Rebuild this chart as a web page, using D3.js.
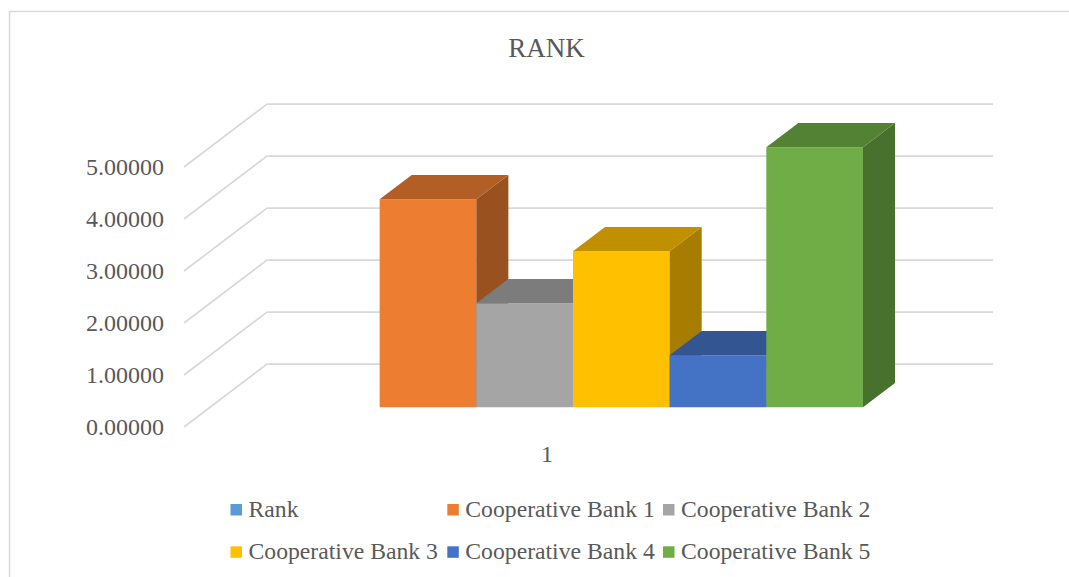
<!DOCTYPE html>
<html>
<head>
<meta charset="utf-8">
<script src="https://cdn.jsdelivr.net/npm/d3@7"></script>
<style>
  html, body { margin: 0; padding: 0; background: #ffffff; }
  svg { display: block; }
  text { font-family: "Liberation Serif", "Times New Roman", serif; fill: #595959; }
</style>
</head>
<body>
<svg id="chart" width="1069" height="577"></svg>
<script>
// Chart data
const title = "RANK";
const categories = ["1"];
const seriesNames = ["Rank", "Cooperative Bank 1", "Cooperative Bank 2",
                     "Cooperative Bank 3", "Cooperative Bank 4", "Cooperative Bank 5"];
const seriesValues = [null, 4, 2, 3, 1, 5];
const seriesColors = ["#5B9BD5", "#ED7D31", "#A5A5A5", "#FFC000", "#4472C4", "#70AD47"];
const tickValues = [0, 1, 2, 3, 4, 5];
const tickFormat = d3.format(".5f");

const svg = d3.select("#chart");

// Chart area frame
svg.append("path")
  .attr("d", "M9.5,577 V11.5 H1069")
  .attr("fill", "none")
  .attr("stroke", "#d9d9d9")
  .attr("stroke-width", 1.5);

// Title
svg.append("text")
  .attr("x", 546.5).attr("y", 56.5)
  .attr("text-anchor", "middle")
  .attr("font-size", 27)
  .text(title);

// Oblique 3D projection: x along the front plane, value upward, depth toward the back
const front = { x0: 184, x1: 910, y0: 427 };
const depthVec = { dx: 83, dy: -63 };
const y = d3.scaleLinear().domain([0, 5]).range([0, 260]);
const x = d3.scaleBand().domain(categories).range([front.x0, front.x1])
  .paddingInner(0).paddingOuter(0.1259);
const xs = d3.scaleBand().domain(seriesNames).range([0, x.bandwidth()]).padding(0);
const barDepth = [0.313, 0.699];

function P(px, v, d) {
  return [px + depthVec.dx * d, front.y0 - y(v) + depthVec.dy * d];
}
const line = d3.line();

// Gridlines: floor-side diagonal plus back-wall horizontal
const grid = svg.append("g").attr("fill", "none")
  .attr("stroke", "#d9d9d9").attr("stroke-width", 1.75);
tickValues.forEach(v => {
  grid.append("path").attr("d", line([P(front.x0, v, 0), P(front.x0, v, 1), P(front.x1, v, 1)]));
});

// Value axis labels
svg.append("g").selectAll("text").data(tickValues).join("text")
  .attr("x", 164)
  .attr("y", d => P(front.x0, d, 0)[1])
  .attr("dy", "0.35em")
  .attr("text-anchor", "end")
  .attr("font-size", 24)
  .text(d => tickFormat(d));

// Category label
svg.append("text")
  .attr("x", x("1") + x.bandwidth() / 2)
  .attr("y", 461.5)
  .attr("text-anchor", "middle")
  .attr("font-size", 24)
  .text("1");

// 3D columns drawn left to right
const bars = svg.append("g");
seriesNames.forEach((name, i) => {
  const v = seriesValues[i];
  if (v == null) return;
  const base = d3.color(seriesColors[i]);
  const xl = x("1") + xs(name);
  const xr = xl + xs.bandwidth();
  const [d0, d1] = barDepth;
  const g = bars.append("g");
  // front face
  g.append("path")
    .attr("d", line([P(xl, 0, d0), P(xl, v, d0), P(xr, v, d0), P(xr, 0, d0)]) + "Z")
    .attr("fill", base.formatHex());
  // right side face
  g.append("path")
    .attr("d", line([P(xr, 0, d0), P(xr, v, d0), P(xr, v, d1), P(xr, 0, d1)]) + "Z")
    .attr("fill", base.darker(1.2).formatHex());
  // top face
  g.append("path")
    .attr("d", line([P(xl, v, d0), P(xr, v, d0), P(xr, v, d1), P(xl, v, d1)]) + "Z")
    .attr("fill", base.darker(0.8).formatHex());
});

// Legend, three columns by two rows
const legend = svg.append("g");
const colX = [230.5, 447.3, 663];
const rowY = [516.7, 559];
seriesNames.forEach((name, i) => {
  const cx = colX[i % 3], cy = rowY[Math.floor(i / 3)];
  legend.append("rect")
    .attr("x", cx).attr("y", cy - 12.7)
    .attr("width", 11.5).attr("height", 11.5)
    .attr("fill", seriesColors[i]);
  legend.append("text")
    .attr("x", cx + 18).attr("y", cy)
    .attr("font-size", 23.7)
    .text(name);
});
</script>
</body>
</html>
